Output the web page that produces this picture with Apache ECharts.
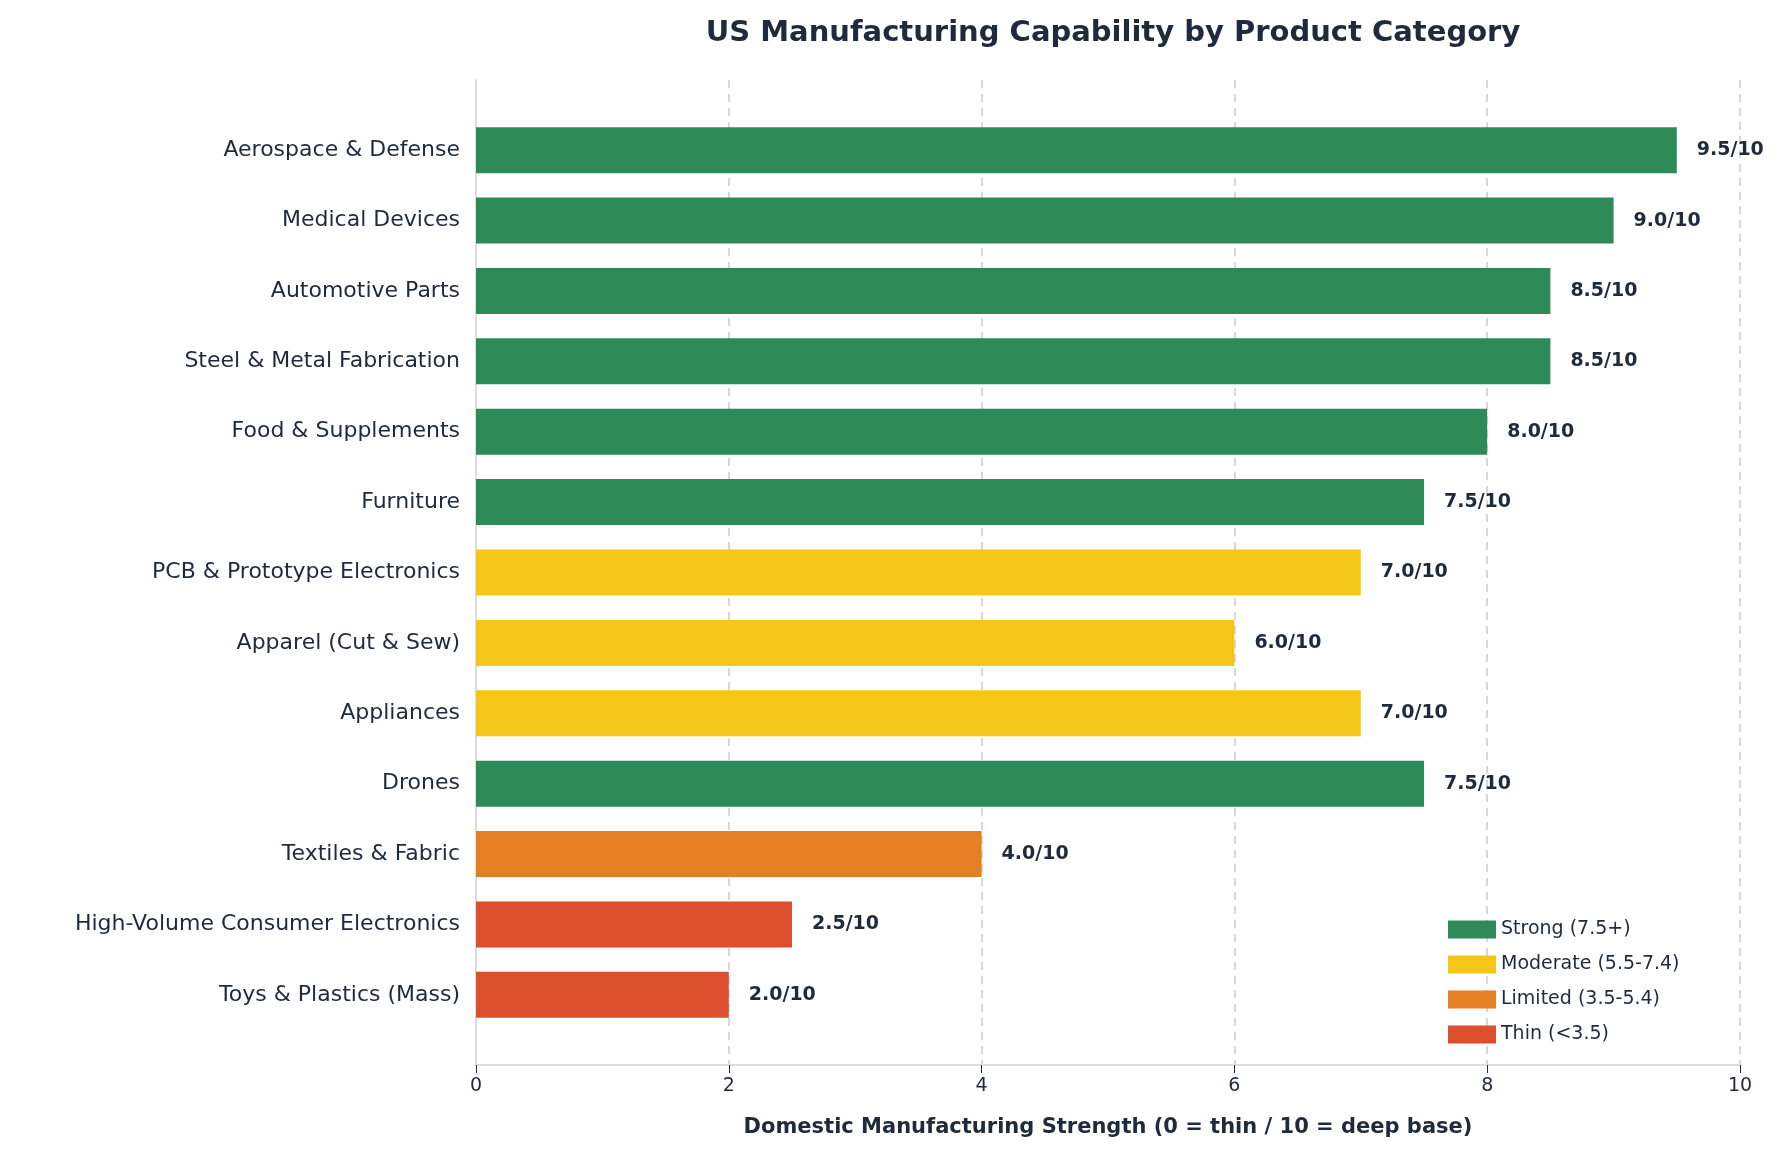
<!DOCTYPE html>
<html><head><meta charset="utf-8">
<script src="https://cdn.jsdelivr.net/npm/echarts@6/dist/echarts.min.js"></script>
<style>html,body{margin:0;padding:0;background:#fff}#c{width:1786px;height:1152px}</style>
</head><body><div id="c"></div>
<script>
const categories = ["Aerospace & Defense","Medical Devices","Automotive Parts","Steel & Metal Fabrication","Food & Supplements","Furniture","PCB & Prototype Electronics","Apparel (Cut & Sew)","Appliances","Drones","Textiles & Fabric","High-Volume Consumer Electronics","Toys & Plastics (Mass)"];
const scores = [9.5,9.0,8.5,8.5,8.0,7.5,7.0,6.0,7.0,7.5,4.0,2.5,2.0];
const tierNames = ["Strong (7.5+)","Moderate (5.5-7.4)","Limited (3.5-5.4)","Thin (<3.5)"];
const tierColors = ["#2e8b57","#f5c518","#e67e22","#db4f2e"];
const tierOf = v => v>=7.5?0:(v>=5.5?1:(v>=3.5?2:3));
const txt = "#1f2a3a";
const series = tierNames.map((n,t)=>({
  name:n, type:'bar', stack:'s', xAxisIndex:0, yAxisIndex:0, barWidth:46,
  itemStyle:{color:tierColors[t]},
  data: scores.map(v=>tierOf(v)===t?v:null),
  label:{show:true, position:'right', distance:20, fontWeight:'bold', fontSize:19, color:txt, fontFamily:'DejaVu Sans',
    formatter:p=>p.value==null?'':p.value.toFixed(1)+'/10'}
}));
const chart = echarts.init(document.getElementById('c'));
chart.setOption({
  animation:false,
  textStyle:{fontFamily:'DejaVu Sans'},
  title:{text:'US Manufacturing Capability by Product Category', left:1108, textAlign:'center', top:14,
    textStyle:{fontSize:29, fontWeight:'bold', color:txt}},
  legend:{data:tierNames, orient:'vertical', left:1443, top:915, itemWidth:48, itemHeight:18, itemGap:16,
    icon:'rect', textStyle:{fontSize:19, color:txt}},
  grid:[{left:476, right:46, top:115, bottom:122},{left:476, right:46, top:80, bottom:87}],
  xAxis:[{type:'value', gridIndex:0, min:0, max:10, show:false},
    {type:'value', gridIndex:1, min:0, max:10, interval:2,
     axisLine:{show:true, lineStyle:{color:'#dddddd', width:2}},
     axisTick:{show:true, length:8, lineStyle:{color:'#1f2a3a'}},
     axisLabel:{fontSize:19, color:txt, margin:12},
     splitLine:{show:true, lineStyle:{type:[8,6], color:'#cccccc', width:1.5}},
     name:'Domestic Manufacturing Strength (0 = thin / 10 = deep base)', nameLocation:'middle', nameGap:52,
     nameTextStyle:{fontSize:21, fontWeight:'bold', color:txt}}],
  yAxis:[{type:'category', gridIndex:0, data:categories, inverse:true,
     axisLine:{show:false}, axisTick:{show:false},
     axisLabel:{fontSize:22, color:txt, margin:16}},
    {type:'value', gridIndex:1, min:0, max:1, axisLabel:{show:false}, splitLine:{show:false},
     axisLine:{show:true, lineStyle:{color:'#dddddd', width:2}}, axisTick:{show:false}}],
  series: series
});
</script></body></html>
